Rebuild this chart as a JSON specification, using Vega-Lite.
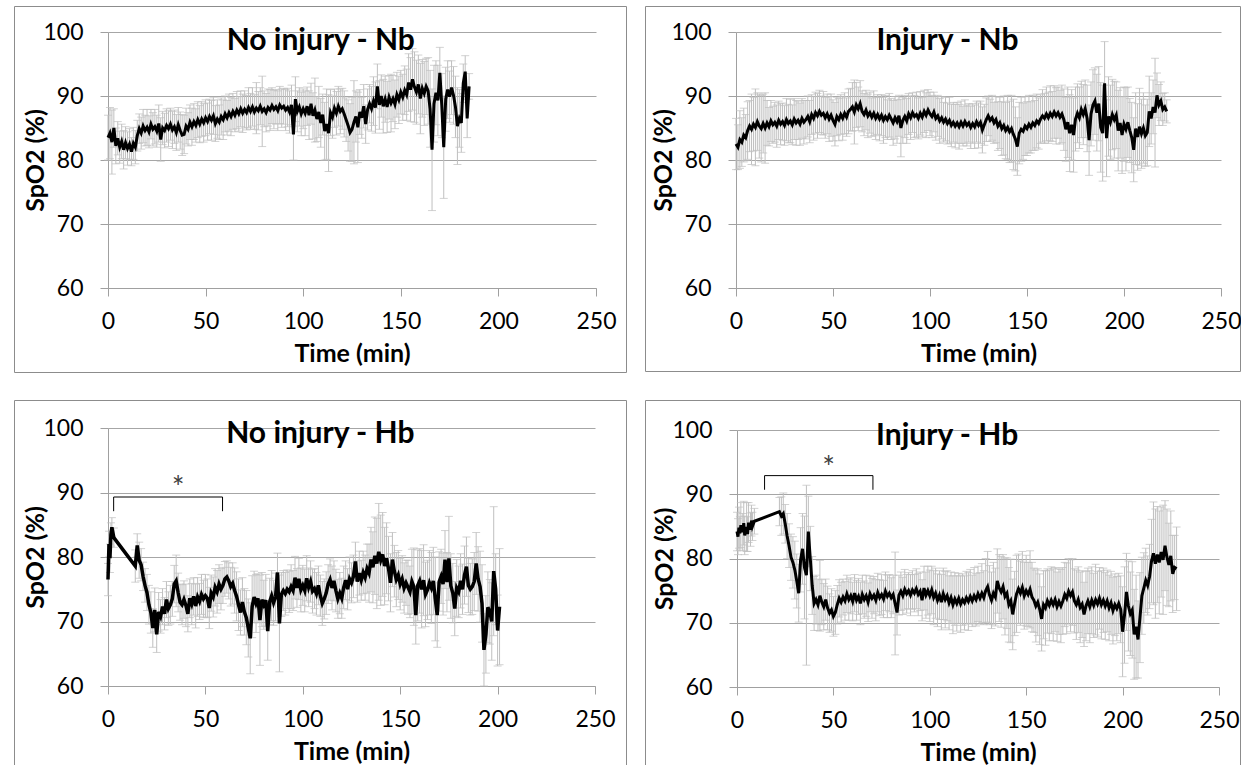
{
"$schema": "https://vega.github.io/schema/vega-lite/v6.json",
"padding": {"left": 13, "top": 5, "right": 0, "bottom": 0},
"spacing": 26,
"config": {
  "view": {"stroke": "#8c8c8c", "strokeWidth": 1},
  "font": "Lato",
  "axis": {"labelFont": "Lato", "titleFont": "Lato", "labelColor": "#000000", "titleColor": "#000000", "domainColor": "#a0a0a0", "tickColor": "#a0a0a0", "gridColor": "#a6a6a6", "gridOpacity": 1, "domainWidth": 1, "tickWidth": 1, "titleFontWeight": "bold", "labelFontSize": 23, "titleFontSize": 25, "tickSize": 8, "labelFlush": false, "labelOverlap": false}
},
"datasets": {
"nb_noinj": [
{"t":0,"y":83.5,"e":3.5},{"t":1,"y":84.2,"e":4},{"t":2,"y":82.8,"e":5},{"t":3,"y":85.0,"e":3},{"t":4,"y":82.2,"e":2.8},{"t":5,"y":83.4,"e":2.6},{"t":6,"y":82.0,"e":2.5},{"t":7,"y":82.9,"e":2.7},{"t":8,"y":81.6,"e":3},{"t":9,"y":82.7,"e":2.5},
{"t":10,"y":81.8,"e":2.6},{"t":11,"y":82.5,"e":2.4},{"t":12,"y":81.3,"e":2.2},{"t":13,"y":82.6,"e":2.5},{"t":14,"y":82.0,"e":2.6},{"t":15,"y":83.8,"e":2.4},{"t":16,"y":84.9,"e":2.3},{"t":17,"y":84.2,"e":2.5},{"t":18,"y":85.3,"e":2.6},{"t":19,"y":84.6,"e":2.4},
{"t":20,"y":85.1,"e":2.8},{"t":21,"y":84.4,"e":2.5},{"t":22,"y":85.6,"e":2.3},{"t":23,"y":84.8,"e":2.6},{"t":24,"y":85.2,"e":2.7},{"t":25,"y":84.5,"e":2.5},{"t":26,"y":85.7,"e":2.9},{"t":27,"y":83.2,"e":3.4},{"t":28,"y":85.0,"e":2.6},{"t":29,"y":84.6,"e":2.7},
{"t":30,"y":85.4,"e":2.6},{"t":31,"y":84.9,"e":2.8},{"t":32,"y":85.6,"e":2.5},{"t":33,"y":84.7,"e":2.9},{"t":34,"y":85.2,"e":2.6},{"t":35,"y":84.3,"e":2.8},{"t":36,"y":85.5,"e":2.7},{"t":37,"y":84.6,"e":2.9},{"t":38,"y":83.9,"e":3.2},{"t":39,"y":84.0,"e":3.0},
{"t":40,"y":85.3,"e":2.8},{"t":41,"y":84.8,"e":2.6},{"t":42,"y":85.9,"e":2.7},{"t":43,"y":85.2,"e":2.9},{"t":44,"y":86.0,"e":2.8},{"t":45,"y":85.4,"e":2.6},{"t":46,"y":86.3,"e":2.8},{"t":47,"y":85.6,"e":2.9},{"t":48,"y":86.4,"e":2.7},{"t":49,"y":85.8,"e":3.0},
{"t":50,"y":86.6,"e":2.8},{"t":51,"y":86.0,"e":2.9},{"t":52,"y":86.8,"e":2.7},{"t":53,"y":86.2,"e":3.1},{"t":54,"y":86.9,"e":2.9},{"t":55,"y":85.7,"e":2.8},{"t":56,"y":86.4,"e":3.0},{"t":57,"y":85.9,"e":2.7},{"t":58,"y":86.8,"e":2.9},{"t":59,"y":86.3,"e":3.1},
{"t":60,"y":87.2,"e":2.8},{"t":61,"y":86.6,"e":2.7},{"t":62,"y":87.4,"e":2.9},{"t":63,"y":86.8,"e":3.0},{"t":64,"y":87.6,"e":2.8},{"t":65,"y":87.0,"e":2.6},{"t":66,"y":87.8,"e":2.9},{"t":67,"y":87.2,"e":2.7},{"t":68,"y":88.0,"e":2.8},{"t":69,"y":87.3,"e":3.0},
{"t":70,"y":87.9,"e":2.9},{"t":71,"y":87.4,"e":2.7},{"t":72,"y":88.2,"e":3.1},{"t":73,"y":87.6,"e":2.8},{"t":74,"y":88.3,"e":3.0},{"t":75,"y":87.5,"e":2.7},{"t":76,"y":88.1,"e":4.0},{"t":77,"y":87.7,"e":3.0},{"t":78,"y":88.4,"e":2.9},{"t":79,"y":87.6,"e":5.5},
{"t":80,"y":88.0,"e":2.8},{"t":81,"y":87.4,"e":3.0},{"t":82,"y":88.2,"e":2.9},{"t":83,"y":87.8,"e":3.2},{"t":84,"y":88.5,"e":2.8},{"t":85,"y":87.9,"e":3.0},{"t":86,"y":88.3,"e":2.7},{"t":87,"y":87.7,"e":3.1},{"t":88,"y":88.6,"e":2.9},{"t":89,"y":88.1,"e":3.0},
{"t":90,"y":88.4,"e":2.8},{"t":91,"y":87.8,"e":3.2},{"t":92,"y":88.2,"e":3.0},{"t":93,"y":87.5,"e":3.3},{"t":94,"y":88.6,"e":3.1},{"t":95,"y":84.0,"e":4.0},{"t":96,"y":89.5,"e":3.5},{"t":97,"y":87.6,"e":3.2},{"t":98,"y":88.3,"e":3.0},{"t":99,"y":87.2,"e":3.4},
{"t":100,"y":88.0,"e":3.1},{"t":101,"y":87.3,"e":3.5},{"t":102,"y":88.4,"e":3.0},{"t":103,"y":87.0,"e":3.8},{"t":104,"y":88.8,"e":3.2},{"t":105,"y":86.9,"e":3.6},{"t":106,"y":87.8,"e":5.0},{"t":107,"y":86.4,"e":3.5},{"t":108,"y":87.5,"e":4.0},{"t":109,"y":85.8,"e":3.8},
{"t":110,"y":87.1,"e":3.2},{"t":111,"y":84.5,"e":4.5},{"t":112,"y":85.6,"e":5.5},{"t":113,"y":84.2,"e":6.0},{"t":114,"y":87.4,"e":3.6},{"t":115,"y":86.7,"e":3.3},{"t":116,"y":88.1,"e":3.0},{"t":117,"y":87.3,"e":3.4},{"t":118,"y":88.4,"e":3.1},{"t":119,"y":87.6,"e":3.5},
{"t":120,"y":88.0,"e":3.2},{"t":121,"y":87.2,"e":3.6},{"t":122,"y":86.3,"e":3.4},{"t":123,"y":85.4,"e":4.0},{"t":124,"y":84.3,"e":4.5},{"t":125,"y":84.8,"e":5.0},{"t":126,"y":85.9,"e":6.5},{"t":127,"y":86.8,"e":4.0},{"t":128,"y":85.1,"e":5.5},{"t":129,"y":87.5,"e":3.5},
{"t":130,"y":86.6,"e":3.2},{"t":131,"y":88.4,"e":3.4},{"t":132,"y":85.6,"e":3.0},{"t":133,"y":87.9,"e":3.2},{"t":134,"y":88.8,"e":3.0},{"t":135,"y":88.0,"e":3.5},{"t":136,"y":89.2,"e":3.8},{"t":137,"y":88.2,"e":4.0},{"t":138,"y":91.5,"e":3.5},{"t":139,"y":88.6,"e":3.8},
{"t":140,"y":90.0,"e":3.3},{"t":141,"y":88.4,"e":4.2},{"t":142,"y":89.5,"e":3.6},{"t":143,"y":88.3,"e":4.0},{"t":144,"y":89.8,"e":3.4},{"t":145,"y":88.9,"e":4.5},{"t":146,"y":89.6,"e":3.6},{"t":147,"y":88.7,"e":3.8},{"t":148,"y":90.2,"e":3.5},{"t":149,"y":89.4,"e":3.7},
{"t":150,"y":90.6,"e":3.4},{"t":151,"y":89.8,"e":3.6},{"t":152,"y":90.9,"e":3.8},{"t":153,"y":90.2,"e":4.0},{"t":154,"y":92.1,"e":4.5},{"t":155,"y":91.0,"e":5.0},{"t":156,"y":92.6,"e":4.8},{"t":157,"y":91.4,"e":5.5},{"t":158,"y":90.6,"e":5.0},{"t":159,"y":91.8,"e":4.6},
{"t":160,"y":89.6,"e":5.5},{"t":161,"y":91.2,"e":4.5},{"t":162,"y":90.4,"e":5.0},{"t":163,"y":91.5,"e":4.4},{"t":164,"y":90.8,"e":5.2},{"t":165,"y":88.0,"e":6.0},{"t":166,"y":81.6,"e":9.5},{"t":167,"y":88.8,"e":6.0},{"t":168,"y":90.5,"e":5.0},{"t":169,"y":89.3,"e":5.5},
{"t":170,"y":93.6,"e":4.0},{"t":171,"y":88.5,"e":5.0},{"t":172,"y":82.0,"e":8.0},{"t":173,"y":89.5,"e":5.0},{"t":174,"y":91.0,"e":4.5},{"t":175,"y":89.9,"e":4.0},{"t":176,"y":91.3,"e":4.2},{"t":177,"y":90.1,"e":4.5},{"t":178,"y":88.3,"e":4.8},{"t":179,"y":85.3,"e":6.0},
{"t":180,"y":86.5,"e":4.5},{"t":181,"y":85.8,"e":4.6},{"t":182,"y":92.0,"e":3.0},{"t":183,"y":93.8,"e":2.5},{"t":184,"y":86.5,"e":3.0},{"t":185,"y":91.5,"e":2.0}
],
"nb_inj": [
{"t":0,"y":82.5,"e":4.0},{"t":1,"y":82.0,"e":3.5},{"t":2,"y":83.2,"e":4.5},{"t":3,"y":82.8,"e":3.8},{"t":4,"y":83.9,"e":4.2},{"t":5,"y":83.5,"e":3.6},{"t":6,"y":84.6,"e":4.5},{"t":7,"y":85.3,"e":4.0},{"t":8,"y":84.8,"e":5.5},{"t":9,"y":85.6,"e":4.2},
{"t":10,"y":85.1,"e":6.0},{"t":11,"y":86.0,"e":4.5},{"t":12,"y":85.3,"e":5.0},{"t":13,"y":84.9,"e":5.2},{"t":14,"y":85.7,"e":4.6},{"t":15,"y":85.0,"e":5.5},{"t":16,"y":85.8,"e":3.5},{"t":17,"y":85.2,"e":3.0},{"t":18,"y":86.1,"e":3.2},{"t":19,"y":85.5,"e":2.9},
{"t":20,"y":85.9,"e":3.1},{"t":21,"y":85.3,"e":3.3},{"t":22,"y":86.2,"e":3.0},{"t":23,"y":85.6,"e":3.2},{"t":24,"y":86.0,"e":2.9},{"t":25,"y":85.4,"e":3.1},{"t":26,"y":86.3,"e":3.3},{"t":27,"y":85.7,"e":3.0},{"t":28,"y":86.1,"e":3.4},{"t":29,"y":85.5,"e":3.1},
{"t":30,"y":86.4,"e":3.2},{"t":31,"y":85.8,"e":3.5},{"t":32,"y":86.2,"e":3.0},{"t":33,"y":85.6,"e":3.3},{"t":34,"y":86.5,"e":3.1},{"t":35,"y":85.9,"e":3.4},{"t":36,"y":86.3,"e":3.0},{"t":37,"y":86.8,"e":3.2},{"t":38,"y":86.0,"e":3.3},{"t":39,"y":87.1,"e":3.1},
{"t":40,"y":86.5,"e":3.4},{"t":41,"y":87.4,"e":3.2},{"t":42,"y":86.9,"e":3.5},{"t":43,"y":87.6,"e":3.3},{"t":44,"y":87.0,"e":3.0},{"t":45,"y":87.3,"e":3.4},{"t":46,"y":86.6,"e":3.2},{"t":47,"y":87.2,"e":3.1},{"t":48,"y":86.4,"e":3.5},{"t":49,"y":87.0,"e":3.3},
{"t":50,"y":86.2,"e":3.2},{"t":51,"y":85.6,"e":3.4},{"t":52,"y":86.8,"e":3.0},{"t":53,"y":86.3,"e":3.3},{"t":54,"y":87.1,"e":3.1},{"t":55,"y":86.5,"e":3.4},{"t":56,"y":87.3,"e":3.2},{"t":57,"y":86.7,"e":3.0},{"t":58,"y":87.6,"e":3.5},{"t":59,"y":87.9,"e":3.3},
{"t":60,"y":88.3,"e":3.8},{"t":61,"y":87.5,"e":5.0},{"t":62,"y":88.6,"e":3.5},{"t":63,"y":88.0,"e":3.4},{"t":64,"y":88.8,"e":3.6},{"t":65,"y":87.6,"e":3.2},{"t":66,"y":87.1,"e":3.3},{"t":67,"y":87.8,"e":3.1},{"t":68,"y":86.9,"e":3.4},{"t":69,"y":87.4,"e":3.2},
{"t":70,"y":86.7,"e":3.0},{"t":71,"y":87.3,"e":3.5},{"t":72,"y":86.5,"e":3.3},{"t":73,"y":87.1,"e":3.1},{"t":74,"y":86.4,"e":3.4},{"t":75,"y":87.0,"e":3.2},{"t":76,"y":86.2,"e":3.6},{"t":77,"y":86.8,"e":3.3},{"t":78,"y":86.3,"e":3.1},{"t":79,"y":87.0,"e":3.4},
{"t":80,"y":86.4,"e":3.2},{"t":81,"y":85.8,"e":3.5},{"t":82,"y":86.6,"e":3.3},{"t":83,"y":86.0,"e":3.4},{"t":84,"y":86.9,"e":3.2},{"t":85,"y":85.0,"e":4.5},{"t":86,"y":86.2,"e":3.6},{"t":87,"y":86.8,"e":3.3},{"t":88,"y":86.1,"e":3.5},{"t":89,"y":87.2,"e":3.2},
{"t":90,"y":86.6,"e":3.4},{"t":91,"y":87.4,"e":3.1},{"t":92,"y":86.8,"e":3.3},{"t":93,"y":87.1,"e":3.5},{"t":94,"y":86.5,"e":3.2},{"t":95,"y":87.3,"e":3.4},{"t":96,"y":86.7,"e":3.1},{"t":97,"y":87.6,"e":3.3},{"t":98,"y":87.0,"e":3.5},{"t":99,"y":87.8,"e":3.2},
{"t":100,"y":87.2,"e":3.4},{"t":101,"y":86.8,"e":3.3},{"t":102,"y":87.5,"e":3.1},{"t":103,"y":86.5,"e":3.4},{"t":104,"y":86.9,"e":3.2},{"t":105,"y":86.1,"e":3.5},{"t":106,"y":86.6,"e":3.3},{"t":107,"y":85.9,"e":3.1},{"t":108,"y":86.4,"e":3.4},{"t":109,"y":85.7,"e":3.2},
{"t":110,"y":86.2,"e":3.6},{"t":111,"y":85.4,"e":3.3},{"t":112,"y":85.9,"e":3.1},{"t":113,"y":85.3,"e":3.4},{"t":114,"y":85.8,"e":3.2},{"t":115,"y":85.2,"e":3.5},{"t":116,"y":85.9,"e":3.3},{"t":117,"y":85.3,"e":3.1},{"t":118,"y":86.0,"e":3.4},{"t":119,"y":85.4,"e":3.2},
{"t":120,"y":85.8,"e":3.0},{"t":121,"y":85.1,"e":3.3},{"t":122,"y":85.7,"e":3.1},{"t":123,"y":85.2,"e":3.4},{"t":124,"y":86.0,"e":3.2},{"t":125,"y":85.4,"e":3.5},{"t":126,"y":85.9,"e":3.3},{"t":127,"y":84.7,"e":3.6},{"t":128,"y":85.5,"e":3.2},{"t":129,"y":86.3,"e":3.4},
{"t":130,"y":86.9,"e":3.1},{"t":131,"y":86.2,"e":3.3},{"t":132,"y":86.6,"e":3.5},{"t":133,"y":85.8,"e":3.2},{"t":134,"y":86.3,"e":3.6},{"t":135,"y":85.3,"e":3.8},{"t":136,"y":85.8,"e":4.0},{"t":137,"y":84.9,"e":4.2},{"t":138,"y":85.4,"e":4.6},{"t":139,"y":84.6,"e":4.4},
{"t":140,"y":85.1,"e":5.0},{"t":141,"y":84.4,"e":4.8},{"t":142,"y":84.9,"e":5.2},{"t":143,"y":84.0,"e":5.5},{"t":144,"y":83.3,"e":5.0},{"t":145,"y":82.1,"e":4.5},{"t":146,"y":84.2,"e":4.8},{"t":147,"y":84.8,"e":5.0},{"t":148,"y":84.5,"e":4.4},{"t":149,"y":85.3,"e":4.6},
{"t":150,"y":84.9,"e":4.2},{"t":151,"y":85.6,"e":4.5},{"t":152,"y":85.1,"e":4.0},{"t":153,"y":85.8,"e":4.3},{"t":154,"y":85.4,"e":3.9},{"t":155,"y":86.1,"e":4.2},{"t":156,"y":85.7,"e":4.0},{"t":157,"y":86.4,"e":3.8},{"t":158,"y":86.9,"e":4.1},{"t":159,"y":86.5,"e":3.9},
{"t":160,"y":87.2,"e":4.2},{"t":161,"y":86.6,"e":4.0},{"t":162,"y":87.3,"e":4.3},{"t":163,"y":86.8,"e":3.9},{"t":164,"y":87.5,"e":4.1},{"t":165,"y":86.9,"e":4.4},{"t":166,"y":87.4,"e":4.0},{"t":167,"y":86.7,"e":4.2},{"t":168,"y":87.2,"e":4.5},{"t":169,"y":86.3,"e":4.8},
{"t":170,"y":84.8,"e":5.0},{"t":171,"y":85.9,"e":5.5},{"t":172,"y":84.2,"e":6.0},{"t":173,"y":85.5,"e":5.5},{"t":174,"y":83.9,"e":5.8},{"t":175,"y":86.4,"e":5.0},{"t":176,"y":87.3,"e":4.6},{"t":177,"y":86.6,"e":4.8},{"t":178,"y":87.9,"e":4.4},{"t":179,"y":87.1,"e":4.7},
{"t":180,"y":88.0,"e":4.5},{"t":181,"y":86.5,"e":5.2},{"t":182,"y":83.1,"e":5.5},{"t":183,"y":87.2,"e":5.0},{"t":184,"y":88.6,"e":5.5},{"t":185,"y":89.2,"e":5.2},{"t":186,"y":87.4,"e":6.0},{"t":187,"y":88.8,"e":5.8},{"t":188,"y":85.1,"e":7.0},{"t":189,"y":84.2,"e":7.5},
{"t":190,"y":92.0,"e":6.5},{"t":191,"y":83.4,"e":6.0},{"t":192,"y":86.8,"e":6.2},{"t":193,"y":85.9,"e":5.8},{"t":194,"y":87.1,"e":5.5},{"t":195,"y":86.3,"e":6.0},{"t":196,"y":87.0,"e":5.2},{"t":197,"y":84.6,"e":6.3},{"t":198,"y":85.8,"e":5.5},{"t":199,"y":83.9,"e":6.0},
{"t":200,"y":85.6,"e":5.8},{"t":201,"y":84.8,"e":6.5},{"t":202,"y":85.9,"e":5.5},{"t":203,"y":84.6,"e":5.0},{"t":204,"y":83.5,"e":5.5},{"t":205,"y":81.6,"e":5.0},{"t":206,"y":84.9,"e":5.6},{"t":207,"y":83.6,"e":5.2},{"t":208,"y":85.2,"e":6.0},{"t":209,"y":84.1,"e":5.4},
{"t":210,"y":85.0,"e":5.5},{"t":211,"y":83.8,"e":4.8},{"t":212,"y":84.3,"e":5.2},{"t":213,"y":87.6,"e":5.5},{"t":214,"y":86.5,"e":4.0},{"t":215,"y":88.3,"e":4.2},{"t":216,"y":87.4,"e":8.5},{"t":217,"y":90.1,"e":3.5},{"t":218,"y":88.6,"e":3.2},{"t":219,"y":89.2,"e":3.0},
{"t":220,"y":87.9,"e":2.5},{"t":221,"y":88.3,"e":2.2},{"t":222,"y":87.6,"e":1.8}
],
"hb_noinj": [
{"t":0,"y":76.5,"e":2.5},{"t":0.5,"y":82.0,"e":2.0},{"t":1,"y":79.8,"e":2.2},{"t":1.5,"y":83.5,"e":1.8},{"t":2,"y":84.6,"e":1.5},{"t":3,"y":83.0,"e":1.5},
{"t":14,"y":78.6,"e":2.5},{"t":15,"y":81.8,"e":1.8},{"t":16,"y":79.5,"e":2.8},{"t":17,"y":78.8,"e":2.5},{"t":18,"y":77.0,"e":2.2},{"t":19,"y":75.6,"e":2.6},
{"t":20,"y":74.5,"e":2.8},{"t":21,"y":72.6,"e":3.0},{"t":22,"y":71.4,"e":3.2},{"t":23,"y":69.0,"e":3.0},{"t":24,"y":71.8,"e":3.4},{"t":25,"y":68.0,"e":2.8},{"t":26,"y":71.5,"e":3.0},{"t":27,"y":70.8,"e":2.6},{"t":28,"y":72.3,"e":2.8},{"t":29,"y":71.2,"e":2.5},
{"t":30,"y":73.4,"e":2.8},{"t":31,"y":72.0,"e":2.6},{"t":32,"y":72.6,"e":3.0},{"t":33,"y":73.5,"e":2.7},{"t":34,"y":75.8,"e":2.9},{"t":35,"y":76.3,"e":4.0},{"t":36,"y":74.5,"e":3.0},{"t":37,"y":73.0,"e":2.8},{"t":38,"y":72.6,"e":3.1},{"t":39,"y":73.4,"e":2.9},
{"t":40,"y":72.5,"e":3.3},{"t":41,"y":71.2,"e":2.8},{"t":42,"y":73.6,"e":3.0},{"t":43,"y":72.7,"e":3.2},{"t":44,"y":73.9,"e":2.9},{"t":45,"y":72.4,"e":3.4},{"t":46,"y":73.8,"e":3.0},{"t":47,"y":73.1,"e":2.8},{"t":48,"y":74.2,"e":3.1},{"t":49,"y":73.5,"e":2.9},
{"t":50,"y":74.0,"e":3.3},{"t":51,"y":73.6,"e":3.0},{"t":52,"y":72.1,"e":3.2},{"t":53,"y":74.4,"e":2.8},{"t":54,"y":73.8,"e":3.1},{"t":55,"y":75.3,"e":2.9},{"t":56,"y":74.6,"e":3.3},{"t":57,"y":75.8,"e":3.0},{"t":58,"y":75.0,"e":3.2},{"t":59,"y":75.6,"e":2.8},
{"t":60,"y":76.6,"e":2.7},{"t":61,"y":76.9,"e":2.5},{"t":62,"y":76.3,"e":2.8},{"t":63,"y":75.4,"e":3.0},{"t":64,"y":75.9,"e":3.2},{"t":65,"y":74.8,"e":3.5},{"t":66,"y":73.9,"e":3.8},{"t":67,"y":72.6,"e":4.0},{"t":68,"y":71.4,"e":3.5},{"t":69,"y":73.0,"e":3.8},
{"t":70,"y":71.5,"e":3.6},{"t":71,"y":70.6,"e":4.2},{"t":72,"y":69.0,"e":4.5},{"t":73,"y":67.4,"e":5.5},{"t":74,"y":72.3,"e":4.8},{"t":75,"y":73.8,"e":4.0},{"t":76,"y":72.8,"e":4.5},{"t":77,"y":73.6,"e":3.8},{"t":78,"y":70.2,"e":7.0},{"t":79,"y":73.4,"e":4.2},
{"t":80,"y":72.6,"e":3.8},{"t":81,"y":73.3,"e":4.0},{"t":82,"y":68.5,"e":4.5},{"t":83,"y":73.1,"e":3.6},{"t":84,"y":74.0,"e":3.9},{"t":85,"y":72.9,"e":3.5},{"t":86,"y":73.8,"e":3.7},{"t":87,"y":77.6,"e":3.0},{"t":88,"y":69.7,"e":7.5},{"t":89,"y":74.2,"e":3.4},
{"t":90,"y":74.8,"e":3.1},{"t":91,"y":74.3,"e":3.3},{"t":92,"y":75.0,"e":3.0},{"t":93,"y":74.6,"e":3.2},{"t":94,"y":75.4,"e":3.4},{"t":95,"y":74.8,"e":3.1},{"t":96,"y":76.8,"e":3.3},{"t":97,"y":75.2,"e":3.0},{"t":98,"y":76.6,"e":3.2},{"t":99,"y":74.9,"e":3.4},
{"t":100,"y":75.6,"e":3.1},{"t":101,"y":74.8,"e":3.3},{"t":102,"y":76.7,"e":3.5},{"t":103,"y":75.3,"e":3.0},{"t":104,"y":76.2,"e":3.2},{"t":105,"y":74.7,"e":3.4},{"t":106,"y":75.1,"e":3.1},{"t":107,"y":74.3,"e":3.3},{"t":108,"y":75.6,"e":3.0},{"t":109,"y":74.0,"e":3.2},
{"t":110,"y":72.8,"e":3.4},{"t":111,"y":73.5,"e":3.1},{"t":112,"y":74.4,"e":3.3},{"t":113,"y":75.8,"e":3.0},{"t":114,"y":76.5,"e":3.2},{"t":115,"y":75.2,"e":3.4},{"t":116,"y":76.3,"e":3.1},{"t":117,"y":74.8,"e":3.3},{"t":118,"y":73.5,"e":3.0},{"t":119,"y":74.4,"e":3.2},
{"t":120,"y":73.6,"e":3.1},{"t":121,"y":75.3,"e":3.3},{"t":122,"y":76.4,"e":3.0},{"t":123,"y":75.0,"e":3.2},{"t":124,"y":76.6,"e":3.4},{"t":125,"y":76.0,"e":3.1},{"t":126,"y":77.0,"e":3.3},{"t":127,"y":79.3,"e":3.0},{"t":128,"y":76.2,"e":3.2},{"t":129,"y":77.5,"e":3.4},
{"t":130,"y":76.4,"e":3.1},{"t":131,"y":77.6,"e":3.3},{"t":132,"y":76.8,"e":3.5},{"t":133,"y":78.2,"e":3.8},{"t":134,"y":77.5,"e":4.5},{"t":135,"y":79.6,"e":5.0},{"t":136,"y":78.4,"e":5.5},{"t":137,"y":80.2,"e":6.0},{"t":138,"y":79.0,"e":7.0},{"t":139,"y":80.8,"e":7.5},
{"t":140,"y":79.5,"e":7.0},{"t":141,"y":80.4,"e":6.5},{"t":142,"y":78.6,"e":6.0},{"t":143,"y":79.8,"e":5.5},{"t":144,"y":78.2,"e":5.0},{"t":145,"y":76.0,"e":4.5},{"t":146,"y":79.6,"e":4.2},{"t":147,"y":77.8,"e":4.0},{"t":148,"y":76.5,"e":4.2},{"t":149,"y":77.2,"e":3.8},
{"t":150,"y":75.8,"e":4.0},{"t":151,"y":76.6,"e":3.6},{"t":152,"y":75.2,"e":3.9},{"t":153,"y":76.0,"e":3.5},{"t":154,"y":75.3,"e":4.2},{"t":155,"y":74.6,"e":4.0},{"t":156,"y":76.2,"e":5.0},{"t":157,"y":75.4,"e":6.0},{"t":158,"y":71.0,"e":4.5},{"t":159,"y":75.6,"e":5.5},
{"t":160,"y":76.3,"e":5.0},{"t":161,"y":75.0,"e":6.0},{"t":162,"y":76.4,"e":5.5},{"t":163,"y":74.2,"e":5.0},{"t":164,"y":74.9,"e":4.6},{"t":165,"y":76.0,"e":5.0},{"t":166,"y":75.2,"e":5.5},{"t":167,"y":76.3,"e":5.2},{"t":168,"y":73.5,"e":6.5},{"t":169,"y":71.0,"e":5.0},
{"t":170,"y":76.2,"e":4.6},{"t":171,"y":77.0,"e":4.2},{"t":172,"y":75.8,"e":4.8},{"t":173,"y":79.6,"e":4.5},{"t":174,"y":76.1,"e":4.6},{"t":175,"y":79.8,"e":6.5},{"t":176,"y":75.5,"e":5.0},{"t":177,"y":74.4,"e":4.6},{"t":178,"y":72.0,"e":4.2},{"t":179,"y":75.2,"e":4.4},
{"t":180,"y":74.6,"e":4.0},{"t":181,"y":76.3,"e":4.2},{"t":182,"y":75.0,"e":3.9},{"t":183,"y":77.2,"e":4.5},{"t":184,"y":78.5,"e":4.6},{"t":185,"y":75.6,"e":4.2},{"t":186,"y":75.0,"e":4.0},{"t":187,"y":75.4,"e":4.3},{"t":188,"y":76.2,"e":4.5},{"t":189,"y":79.0,"e":4.8},
{"t":190,"y":76.6,"e":5.0},{"t":191,"y":75.4,"e":5.5},{"t":192,"y":72.8,"e":6.0},{"t":193,"y":65.6,"e":5.6},{"t":194,"y":68.0,"e":6.0},{"t":195,"y":72.2,"e":5.5},{"t":196,"y":71.5,"e":5.0},{"t":197,"y":70.0,"e":6.0},{"t":198,"y":77.8,"e":10.0},{"t":199,"y":75.0,"e":5.5},
{"t":200,"y":68.6,"e":5.5},{"t":201,"y":72.3,"e":9.0}
],
"hb_inj": [
{"t":0,"y":84.2,"e":3.0},{"t":0.5,"y":83.4,"e":2.8},{"t":1,"y":84.8,"e":3.2},{"t":1.5,"y":83.9,"e":2.6},{"t":2,"y":85.2,"e":3.5},{"t":3,"y":84.1,"e":2.9},{"t":3.5,"y":85.5,"e":3.4},{"t":4,"y":83.6,"e":3.0},{"t":5,"y":84.9,"e":3.8},{"t":5.5,"y":83.8,"e":2.7},
{"t":6,"y":85.6,"e":3.1},{"t":7,"y":84.5,"e":2.6},{"t":7.5,"y":85.9,"e":2.4},{"t":8,"y":85.0,"e":2.2},{"t":9,"y":85.8,"e":2.0},
{"t":22,"y":87.3,"e":2.2},{"t":23,"y":86.6,"e":3.0},{"t":24,"y":87.0,"e":3.2},{"t":25,"y":85.4,"e":3.0},{"t":26,"y":83.5,"e":3.5},{"t":27,"y":82.0,"e":3.4},{"t":28,"y":80.2,"e":3.6},{"t":29,"y":79.4,"e":4.0},
{"t":30,"y":78.2,"e":4.5},{"t":31,"y":76.5,"e":4.2},{"t":32,"y":74.6,"e":4.5},{"t":33,"y":79.8,"e":5.0},{"t":34,"y":81.5,"e":5.5},{"t":35,"y":78.6,"e":8.0},{"t":36,"y":77.4,"e":14.0},{"t":37,"y":84.2,"e":5.5},{"t":38,"y":80.0,"e":5.0},{"t":39,"y":75.8,"e":4.5},
{"t":40,"y":73.0,"e":4.2},{"t":41,"y":73.6,"e":3.8},{"t":42,"y":72.8,"e":4.0},{"t":43,"y":74.2,"e":5.5},{"t":44,"y":73.2,"e":3.5},{"t":45,"y":72.5,"e":3.6},{"t":46,"y":73.6,"e":3.2},{"t":47,"y":72.3,"e":3.4},{"t":48,"y":71.5,"e":3.0},{"t":49,"y":72.0,"e":3.3},
{"t":50,"y":71.0,"e":3.1},{"t":51,"y":71.6,"e":3.4},{"t":52,"y":72.8,"e":3.0},{"t":53,"y":73.8,"e":2.9},{"t":54,"y":73.2,"e":3.1},{"t":55,"y":74.0,"e":2.8},{"t":56,"y":73.4,"e":3.0},{"t":57,"y":74.5,"e":2.9},{"t":58,"y":73.6,"e":3.2},{"t":59,"y":74.2,"e":2.8},
{"t":60,"y":73.3,"e":3.0},{"t":61,"y":74.6,"e":2.9},{"t":62,"y":73.5,"e":3.1},{"t":63,"y":74.1,"e":2.8},{"t":64,"y":73.0,"e":3.3},{"t":65,"y":74.4,"e":3.0},{"t":66,"y":73.6,"e":2.9},{"t":67,"y":74.2,"e":3.2},{"t":68,"y":73.2,"e":3.0},{"t":69,"y":74.5,"e":2.8},
{"t":70,"y":73.8,"e":3.1},{"t":71,"y":74.3,"e":2.9},{"t":72,"y":73.5,"e":3.2},{"t":73,"y":74.7,"e":3.0},{"t":74,"y":73.9,"e":2.8},{"t":75,"y":74.4,"e":3.1},{"t":76,"y":73.7,"e":2.9},{"t":77,"y":74.9,"e":3.0},{"t":78,"y":74.1,"e":3.3},{"t":79,"y":74.6,"e":2.9},
{"t":80,"y":73.9,"e":3.1},{"t":81,"y":74.4,"e":3.0},{"t":82,"y":73.0,"e":8.0},{"t":83,"y":71.6,"e":3.5},{"t":84,"y":74.3,"e":3.1},{"t":85,"y":74.9,"e":3.0},{"t":86,"y":74.2,"e":2.9},{"t":87,"y":75.2,"e":3.1},{"t":88,"y":74.5,"e":3.0},{"t":89,"y":75.0,"e":2.8},
{"t":90,"y":74.3,"e":3.2},{"t":91,"y":75.1,"e":3.0},{"t":92,"y":74.6,"e":2.9},{"t":93,"y":75.3,"e":3.1},{"t":94,"y":74.4,"e":3.3},{"t":95,"y":74.9,"e":3.0},{"t":96,"y":73.5,"e":3.2},{"t":97,"y":75.4,"e":3.4},{"t":98,"y":74.3,"e":3.6},{"t":99,"y":75.0,"e":3.8},
{"t":100,"y":74.2,"e":4.0},{"t":101,"y":75.1,"e":3.7},{"t":102,"y":73.9,"e":4.2},{"t":103,"y":74.6,"e":3.9},{"t":104,"y":73.5,"e":4.1},{"t":105,"y":74.3,"e":3.8},{"t":106,"y":73.2,"e":4.3},{"t":107,"y":74.5,"e":4.0},{"t":108,"y":73.6,"e":4.4},{"t":109,"y":74.2,"e":3.9},
{"t":110,"y":73.1,"e":4.2},{"t":111,"y":73.9,"e":4.0},{"t":112,"y":72.8,"e":4.5},{"t":113,"y":73.7,"e":4.1},{"t":114,"y":73.0,"e":4.3},{"t":115,"y":73.8,"e":3.9},{"t":116,"y":72.9,"e":4.4},{"t":117,"y":73.6,"e":4.0},{"t":118,"y":73.1,"e":4.2},{"t":119,"y":73.9,"e":4.1},
{"t":120,"y":73.3,"e":4.5},{"t":121,"y":74.1,"e":4.2},{"t":122,"y":73.4,"e":4.0},{"t":123,"y":74.2,"e":4.4},{"t":124,"y":73.6,"e":4.1},{"t":125,"y":74.5,"e":4.3},{"t":126,"y":73.8,"e":4.0},{"t":127,"y":74.6,"e":4.6},{"t":128,"y":73.9,"e":4.2},{"t":129,"y":75.0,"e":5.0},
{"t":130,"y":75.6,"e":5.5},{"t":131,"y":74.3,"e":4.6},{"t":132,"y":73.5,"e":4.4},{"t":133,"y":74.6,"e":4.8},{"t":134,"y":74.0,"e":4.5},{"t":135,"y":76.5,"e":5.0},{"t":136,"y":75.4,"e":5.2},{"t":137,"y":74.8,"e":5.5},{"t":138,"y":75.6,"e":5.0},{"t":139,"y":74.1,"e":6.0},
{"t":140,"y":74.6,"e":5.5},{"t":141,"y":72.8,"e":5.8},{"t":142,"y":73.4,"e":6.5},{"t":143,"y":71.3,"e":5.5},{"t":144,"y":73.0,"e":5.0},{"t":145,"y":74.5,"e":6.0},{"t":146,"y":75.3,"e":5.4},{"t":147,"y":74.6,"e":5.0},{"t":148,"y":75.5,"e":5.6},{"t":149,"y":74.2,"e":5.2},
{"t":150,"y":75.0,"e":5.5},{"t":151,"y":74.4,"e":5.0},{"t":152,"y":75.2,"e":6.0},{"t":153,"y":74.0,"e":5.4},{"t":154,"y":73.5,"e":5.0},{"t":155,"y":72.6,"e":5.6},{"t":156,"y":73.2,"e":5.2},{"t":157,"y":72.1,"e":5.5},{"t":158,"y":70.6,"e":5.0},{"t":159,"y":72.8,"e":5.3},
{"t":160,"y":72.3,"e":5.8},{"t":161,"y":73.4,"e":5.0},{"t":162,"y":72.7,"e":5.5},{"t":163,"y":73.5,"e":5.2},{"t":164,"y":72.8,"e":5.6},{"t":165,"y":73.6,"e":5.0},{"t":166,"y":72.5,"e":5.4},{"t":167,"y":73.3,"e":5.1},{"t":168,"y":72.6,"e":5.7},{"t":169,"y":73.4,"e":5.2},
{"t":170,"y":74.4,"e":5.0},{"t":171,"y":73.8,"e":5.5},{"t":172,"y":74.9,"e":5.1},{"t":173,"y":74.2,"e":5.6},{"t":174,"y":74.8,"e":5.2},{"t":175,"y":73.4,"e":5.0},{"t":176,"y":72.8,"e":5.4},{"t":177,"y":73.6,"e":5.1},{"t":178,"y":72.4,"e":5.5},{"t":179,"y":72.9,"e":5.2},
{"t":180,"y":71.3,"e":5.0},{"t":181,"y":72.6,"e":5.4},{"t":182,"y":73.4,"e":5.1},{"t":183,"y":72.5,"e":5.6},{"t":184,"y":73.5,"e":5.2},{"t":185,"y":72.7,"e":5.0},{"t":186,"y":73.6,"e":5.5},{"t":187,"y":72.9,"e":5.1},{"t":188,"y":73.8,"e":4.8},{"t":189,"y":72.8,"e":5.3},
{"t":190,"y":73.5,"e":5.0},{"t":191,"y":72.6,"e":5.2},{"t":192,"y":73.4,"e":4.8},{"t":193,"y":72.3,"e":5.1},{"t":194,"y":73.1,"e":4.9},{"t":195,"y":71.9,"e":5.2},{"t":196,"y":72.8,"e":4.8},{"t":197,"y":72.2,"e":5.0},{"t":198,"y":73.0,"e":4.7},{"t":199,"y":72.1,"e":5.2},
{"t":200,"y":68.6,"e":7.0},{"t":201,"y":71.2,"e":7.5},{"t":202,"y":74.8,"e":6.0},{"t":203,"y":72.6,"e":7.0},{"t":204,"y":71.4,"e":6.5},{"t":205,"y":72.0,"e":7.5},{"t":206,"y":68.2,"e":7.0},{"t":207,"y":69.4,"e":8.0},{"t":208,"y":67.4,"e":6.0},{"t":209,"y":70.8,"e":7.0},
{"t":210,"y":74.2,"e":6.0},{"t":211,"y":75.4,"e":5.5},{"t":212,"y":76.6,"e":5.0},{"t":213,"y":75.8,"e":4.6},{"t":214,"y":77.2,"e":5.0},{"t":215,"y":79.6,"e":6.5},{"t":216,"y":80.8,"e":8.0},{"t":217,"y":79.2,"e":8.5},{"t":218,"y":80.6,"e":7.5},{"t":219,"y":79.4,"e":8.0},
{"t":220,"y":81.0,"e":7.0},{"t":221,"y":79.8,"e":8.5},{"t":222,"y":82.0,"e":7.0},{"t":223,"y":80.2,"e":7.5},{"t":224,"y":79.0,"e":6.5},{"t":225,"y":80.4,"e":7.0},{"t":226,"y":77.6,"e":6.0},{"t":227,"y":78.6,"e":5.0},{"t":228,"y":78.4,"e":6.5}
]
},
"vconcat": [
{"hconcat": [
 {"width": 612, "height": 366,
  "layer": [
   {"data": {"name": "nb_noinj"},
    "mark": {"type": "errorbar", "color": "#bfbfbf", "ticks": {"size": 8, "color": "#bfbfbf"}, "rule": {"color": "#bfbfbf"}},
    "encoding": {
     "x": {"field": "t", "type": "quantitative", "scale": {"domain": [0, 250], "range": [94, 582], "nice": false, "zero": false},
           "axis": {"values": [0, 50, 100, 150, 200, 250], "offset": -84, "grid": false, "labelPadding": 14, "title": "Time (min)", "titleY": 73, "titleBaseline": "alphabetic"}},
     "y": {"field": "y", "type": "quantitative", "scale": {"domain": [60, 100], "range": [282, 26], "nice": false, "zero": false},
           "axis": {"values": [60, 70, 80, 90, 100], "offset": -94, "grid": true, "labelPadding": 17, "title": "SpO2 (%)", "titleX": -65, "titleBaseline": "alphabetic"}},
     "yError": {"field": "e"}}},
   {"data": {"name": "nb_noinj"},
    "mark": {"type": "line", "color": "#000000", "strokeWidth": 3},
    "encoding": {
     "x": {"field": "t", "type": "quantitative", "scale": {"domain": [0, 250], "range": [94, 582], "nice": false, "zero": false}},
     "y": {"field": "y", "type": "quantitative", "scale": {"domain": [60, 100], "range": [282, 26], "nice": false, "zero": false}}}},
   {"data": {"values": [{"label": "No injury - Nb"}]},
    "mark": {"type": "text", "font": "Lato", "fontSize": 30, "fontWeight": "bold", "align": "center", "baseline": "alphabetic", "color": "#000000"},
    "encoding": {
     "x": {"datum": 109, "type": "quantitative", "scale": {"domain": [0, 250], "range": [94, 582], "nice": false, "zero": false}},
     "y": {"datum": 97.2, "type": "quantitative", "scale": {"domain": [60, 100], "range": [282, 26], "nice": false, "zero": false}},
     "text": {"field": "label"}}}
  ]},
 {"width": 595, "height": 365,
  "layer": [
   {"data": {"name": "nb_inj"},
    "mark": {"type": "errorbar", "color": "#bfbfbf", "ticks": {"size": 8, "color": "#bfbfbf"}, "rule": {"color": "#bfbfbf"}},
    "encoding": {
     "x": {"field": "t", "type": "quantitative", "scale": {"domain": [0, 250], "range": [91, 576], "nice": false, "zero": false},
           "axis": {"values": [0, 50, 100, 150, 200, 250], "offset": -83, "grid": false, "labelPadding": 14, "title": "Time (min)", "titleY": 73, "titleBaseline": "alphabetic"}},
     "y": {"field": "y", "type": "quantitative", "scale": {"domain": [60, 100], "range": [282, 26], "nice": false, "zero": false},
           "axis": {"values": [60, 70, 80, 90, 100], "offset": -91, "grid": true, "labelPadding": 17, "title": "SpO2 (%)", "titleX": -65, "titleBaseline": "alphabetic"}},
     "yError": {"field": "e"}}},
   {"data": {"name": "nb_inj"},
    "mark": {"type": "line", "color": "#000000", "strokeWidth": 3},
    "encoding": {
     "x": {"field": "t", "type": "quantitative", "scale": {"domain": [0, 250], "range": [91, 576], "nice": false, "zero": false}},
     "y": {"field": "y", "type": "quantitative", "scale": {"domain": [60, 100], "range": [282, 26], "nice": false, "zero": false}}}},
   {"data": {"values": [{"label": "Injury - Nb"}]},
    "mark": {"type": "text", "font": "Lato", "fontSize": 30, "fontWeight": "bold", "align": "center", "baseline": "alphabetic", "color": "#000000"},
    "encoding": {
     "x": {"datum": 109, "type": "quantitative", "scale": {"domain": [0, 250], "range": [91, 576], "nice": false, "zero": false}},
     "y": {"datum": 97.2, "type": "quantitative", "scale": {"domain": [60, 100], "range": [282, 26], "nice": false, "zero": false}},
     "text": {"field": "label"}}}
  ]}
], "spacing": 17},
{"hconcat": [
 {"width": 612, "height": 366,
  "layer": [
   {"data": {"name": "hb_noinj"},
    "mark": {"type": "errorbar", "color": "#bfbfbf", "ticks": {"size": 8, "color": "#bfbfbf"}, "rule": {"color": "#bfbfbf"}},
    "encoding": {
     "x": {"field": "t", "type": "quantitative", "scale": {"domain": [0, 250], "range": [94, 581], "nice": false, "zero": false},
           "axis": {"values": [0, 50, 100, 150, 200, 250], "offset": -80, "grid": false, "labelPadding": 14, "title": "Time (min)", "titleY": 73, "titleBaseline": "alphabetic"}},
     "y": {"field": "y", "type": "quantitative", "scale": {"domain": [60, 100], "range": [286, 28], "nice": false, "zero": false},
           "axis": {"values": [60, 70, 80, 90, 100], "offset": -94, "grid": true, "labelPadding": 17, "title": "SpO2 (%)", "titleX": -65, "titleBaseline": "alphabetic"}},
     "yError": {"field": "e"}}},
   {"data": {"name": "hb_noinj"},
    "mark": {"type": "line", "color": "#000000", "strokeWidth": 3.5},
    "encoding": {
     "x": {"field": "t", "type": "quantitative", "scale": {"domain": [0, 250], "range": [94, 581], "nice": false, "zero": false}},
     "y": {"field": "y", "type": "quantitative", "scale": {"domain": [60, 100], "range": [286, 28], "nice": false, "zero": false}}}},
   {"data": {"values": [{}]},
    "mark": {"type": "rule", "color": "#000000", "strokeWidth": 1},
    "encoding": {
     "x": {"datum": 2.9, "type": "quantitative", "scale": {"domain": [0, 250], "range": [94, 581], "nice": false, "zero": false}},
     "x2": {"datum": 58.8},
     "y": {"datum": 89.3, "type": "quantitative", "scale": {"domain": [60, 100], "range": [286, 28], "nice": false, "zero": false}},
     "y2": {"datum": 89.3}}},
   {"data": {"values": [{}]},
    "mark": {"type": "rule", "color": "#000000", "strokeWidth": 1},
    "encoding": {
     "x": {"datum": 2.9, "type": "quantitative", "scale": {"domain": [0, 250], "range": [94, 581], "nice": false, "zero": false}},
     "y": {"datum": 89.3, "type": "quantitative", "scale": {"domain": [60, 100], "range": [286, 28], "nice": false, "zero": false}},
     "y2": {"datum": 87.1}}},
   {"data": {"values": [{}]},
    "mark": {"type": "rule", "color": "#000000", "strokeWidth": 1},
    "encoding": {
     "x": {"datum": 58.8, "type": "quantitative", "scale": {"domain": [0, 250], "range": [94, 581], "nice": false, "zero": false}},
     "y": {"datum": 89.3, "type": "quantitative", "scale": {"domain": [60, 100], "range": [286, 28], "nice": false, "zero": false}},
     "y2": {"datum": 87.1}}},
   {"data": {"values": [{"label": "*"}]},
    "mark": {"type": "text", "font": "Lato", "fontSize": 30, "align": "center", "baseline": "alphabetic", "color": "#404040"},
    "encoding": {
     "x": {"datum": 36, "type": "quantitative", "scale": {"domain": [0, 250], "range": [94, 581], "nice": false, "zero": false}},
     "y": {"datum": 89.1, "type": "quantitative", "scale": {"domain": [60, 100], "range": [286, 28], "nice": false, "zero": false}},
     "text": {"field": "label"}}},
   {"data": {"values": [{"label": "No injury - Hb"}]},
    "mark": {"type": "text", "font": "Lato", "fontSize": 30, "fontWeight": "bold", "align": "center", "baseline": "alphabetic", "color": "#000000"},
    "encoding": {
     "x": {"datum": 109, "type": "quantitative", "scale": {"domain": [0, 250], "range": [94, 581], "nice": false, "zero": false}},
     "y": {"datum": 97.7, "type": "quantitative", "scale": {"domain": [60, 100], "range": [286, 28], "nice": false, "zero": false}},
     "text": {"field": "label"}}}
  ]},
 {"width": 595, "height": 366,
  "layer": [
   {"data": {"name": "hb_inj"},
    "mark": {"type": "errorbar", "color": "#bfbfbf", "ticks": {"size": 8, "color": "#bfbfbf"}, "rule": {"color": "#bfbfbf"}},
    "encoding": {
     "x": {"field": "t", "type": "quantitative", "scale": {"domain": [0, 250], "range": [92, 574], "nice": false, "zero": false},
           "axis": {"values": [0, 50, 100, 150, 200, 250], "offset": -79, "grid": false, "labelPadding": 14, "title": "Time (min)", "titleY": 73, "titleBaseline": "alphabetic"}},
     "y": {"field": "y", "type": "quantitative", "scale": {"domain": [60, 100], "range": [287, 30], "nice": false, "zero": false},
           "axis": {"values": [60, 70, 80, 90, 100], "offset": -92, "grid": true, "labelPadding": 17, "title": "SpO2 (%)", "titleX": -65, "titleBaseline": "alphabetic"}},
     "yError": {"field": "e"}}},
   {"data": {"name": "hb_inj"},
    "mark": {"type": "line", "color": "#000000", "strokeWidth": 3},
    "encoding": {
     "x": {"field": "t", "type": "quantitative", "scale": {"domain": [0, 250], "range": [92, 574], "nice": false, "zero": false}},
     "y": {"field": "y", "type": "quantitative", "scale": {"domain": [60, 100], "range": [287, 30], "nice": false, "zero": false}}}},
   {"data": {"values": [{}]},
    "mark": {"type": "rule", "color": "#000000", "strokeWidth": 1},
    "encoding": {
     "x": {"datum": 14.3, "type": "quantitative", "scale": {"domain": [0, 250], "range": [92, 574], "nice": false, "zero": false}},
     "x2": {"datum": 70.5},
     "y": {"datum": 92.9, "type": "quantitative", "scale": {"domain": [60, 100], "range": [287, 30], "nice": false, "zero": false}},
     "y2": {"datum": 92.9}}},
   {"data": {"values": [{}]},
    "mark": {"type": "rule", "color": "#000000", "strokeWidth": 1},
    "encoding": {
     "x": {"datum": 14.3, "type": "quantitative", "scale": {"domain": [0, 250], "range": [92, 574], "nice": false, "zero": false}},
     "y": {"datum": 92.9, "type": "quantitative", "scale": {"domain": [60, 100], "range": [287, 30], "nice": false, "zero": false}},
     "y2": {"datum": 90.7}}},
   {"data": {"values": [{}]},
    "mark": {"type": "rule", "color": "#000000", "strokeWidth": 1},
    "encoding": {
     "x": {"datum": 70.5, "type": "quantitative", "scale": {"domain": [0, 250], "range": [92, 574], "nice": false, "zero": false}},
     "y": {"datum": 92.9, "type": "quantitative", "scale": {"domain": [60, 100], "range": [287, 30], "nice": false, "zero": false}},
     "y2": {"datum": 90.7}}},
   {"data": {"values": [{"label": "*"}]},
    "mark": {"type": "text", "font": "Lato", "fontSize": 30, "align": "center", "baseline": "alphabetic", "color": "#404040"},
    "encoding": {
     "x": {"datum": 47.5, "type": "quantitative", "scale": {"domain": [0, 250], "range": [92, 574], "nice": false, "zero": false}},
     "y": {"datum": 92.6, "type": "quantitative", "scale": {"domain": [60, 100], "range": [287, 30], "nice": false, "zero": false}},
     "text": {"field": "label"}}},
   {"data": {"values": [{"label": "Injury - Hb"}]},
    "mark": {"type": "text", "font": "Lato", "fontSize": 30, "fontWeight": "bold", "align": "center", "baseline": "alphabetic", "color": "#000000"},
    "encoding": {
     "x": {"datum": 109, "type": "quantitative", "scale": {"domain": [0, 250], "range": [92, 574], "nice": false, "zero": false}},
     "y": {"datum": 97.7, "type": "quantitative", "scale": {"domain": [60, 100], "range": [287, 30], "nice": false, "zero": false}},
     "text": {"field": "label"}}}
  ]}
], "spacing": 17}
]
}
